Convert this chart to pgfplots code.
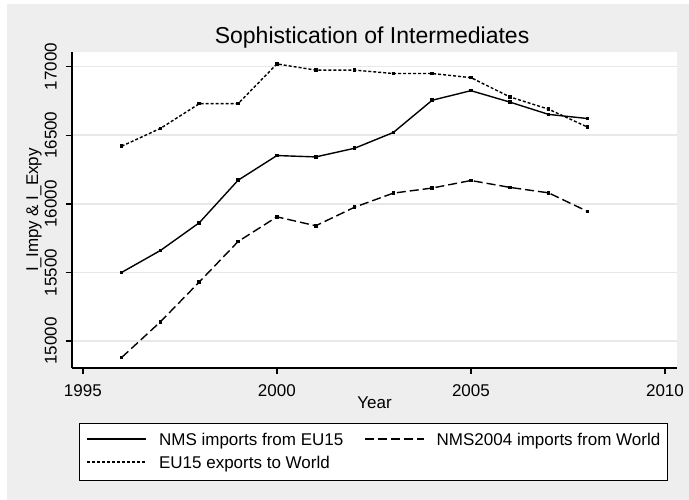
\documentclass[border=0pt]{standalone}
\usepackage{pgfplots}
\pgfplotsset{compat=1.18}
\usepackage{fontspec}
\setmainfont{Liberation Sans}
\definecolor{bgray}{RGB}{238,238,238}
\definecolor{gridc}{RGB}{232,232,232}
\begin{document}
\begin{tikzpicture}
\useasboundingbox (0pt,0pt) rectangle (689pt,500pt);
\fill[white] (0pt,0pt) rectangle (689pt,500pt);
\fill[bgray] (7pt,0pt) rectangle (689pt,496pt);
\begin{axis}[
  at={(72pt,132pt)}, anchor=south west,
  scale only axis, width=605pt, height=316pt,
  xmin=1994.72, xmax=2010.31, ymin=14803, ymax=17107,
  xtick={1995,2000,2005,2010}, ytick={15000,15500,16000,16500,17000},
  scaled y ticks=false, scaled x ticks=false,
  /pgf/number format/1000 sep={},
  /pgf/number format/assume math mode=true,
  axis x line*=bottom, axis y line*=left,
  axis line style={-, line width=1.4pt, black},
  axis background/.style={fill=white},
  tick align=outside, major tick length=6pt,
  tick style={black, line width=1.4pt},
  ymajorgrids, major grid style={gridc, line width=1.6pt},
  ticklabel style={font=\fontsize{17}{20}\selectfont, inner sep=0pt},
  xticklabel style={anchor=north},
  xticklabel shift=10pt,
  yticklabel style={rotate=90, anchor=south},
  yticklabel shift=9pt,
  every axis y label/.style={at={(axis description cs:-0.0562,0.5)}, rotate=90, anchor=base},
  every axis x label/.style={at={(axis description cs:0.5,-0.1266)}, anchor=base},
  label style={font=\fontsize{17}{20}\selectfont},
  ylabel={I\_Impy \& I\_Expy},
  xlabel={Year},
  title={Sophistication of Intermediates},
  every axis title/.style={at={(axis description cs:0.496,1.0253)}, anchor=base, font=\fontsize{23}{26}\selectfont},
  legend columns=2,
  legend cell align=left,
  legend image code/.code={\draw[#1] (0pt,1.5pt) -- (59pt,1.5pt);},
  legend style={at={(axis description cs:0.0116,-0.174)}, anchor=north west,
    draw=black, line width=1.4pt, fill=white,
    font=\fontsize{17}{20}\selectfont,
    inner xsep=7pt, inner ysep=10pt, row sep=9pt,
    nodes={inner sep=0pt},
    /tikz/every odd column/.append style={column sep=12pt},
    /tikz/every even column/.append style={column sep=21pt}},
]
\addplot[black, solid, line width=1.4pt, mark=square*, mark size=1.1pt, mark options={solid}] coordinates {
(1996,15500) (1997,15660) (1998,15862) (1999,16172) (2000,16352) (2001,16342)
(2002,16405) (2003,16520) (2004,16755) (2005,16825) (2006,16742) (2007,16652) (2008,16622)};
\addlegendentry{NMS imports from EU15}
\addplot[black, line width=1.4pt, dash pattern=on 9pt off 4pt, mark=square*, mark size=1.1pt, mark options={solid}] coordinates {
(1996,14880) (1997,15140) (1998,15430) (1999,15725) (2000,15905) (2001,15840)
(2002,15975) (2003,16078) (2004,16115) (2005,16170) (2006,16120) (2007,16080) (2008,15945)};
\addlegendentry{NMS2004 imports from World}
\addplot[black, line width=1.4pt, dash pattern=on 3pt off 2pt, mark=square*, mark size=1.1pt, mark options={solid}] coordinates {
(1996,16420) (1997,16550) (1998,16730) (1999,16730) (2000,17020) (2001,16975)
(2002,16975) (2003,16950) (2004,16950) (2005,16920) (2006,16780) (2007,16690) (2008,16560)};
\addlegendentry{EU15 exports to World}
\end{axis}
\end{tikzpicture}
\end{document}
